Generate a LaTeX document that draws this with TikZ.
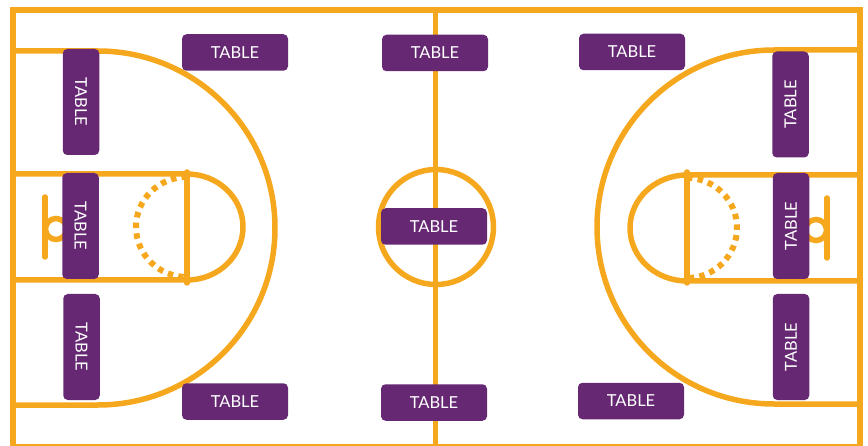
\documentclass[tikz,border=0pt]{standalone}
\usepackage{fontspec}
\setmainfont{Lato}
\usetikzlibrary{positioning}
\definecolor{courtorange}{HTML}{F5A81E}
\definecolor{tablepurple}{HTML}{662873}
\tikzset{
  court/.style={draw=courtorange, line width=5.5pt},
  border/.style={draw=courtorange, line width=6pt},
  dots/.style={draw=courtorange, line width=6pt, dash pattern=on 5.5pt off 5.2pt},
  rim/.style={draw=courtorange, line width=5.5pt, line cap=round},
  tbl/.style={fill=tablepurple, rectangle, rounded corners=4.5pt, minimum width=106pt, minimum height=36.5pt, inner sep=0pt, text=white, font=\fontsize{16.5}{16.5}\selectfont},
  ltbl/.style={tbl, rotate=-90},
  rtbl/.style={tbl, rotate=90},
}
\begin{document}
\begin{tikzpicture}[x=1pt,y=1pt]
\useasboundingbox (0,0) rectangle (868,445);
\draw[border] (13,-2.2) rectangle (860,435);
\draw[court] (435.5,-2) -- (435.5,435);
\draw[court] (436,218) circle (57.5);
% left half
\draw[court] (13,394) -- (98,394) arc (90:-90:177) -- (13,40);
\draw[court] (13,271) -- (187,271) arc (90:-90:56 and 53) -- (13,165);
\draw[rim] (187,273) -- (187,162);
\draw[dots] (187,268) arc (90:270:51 and 50);
\draw[rim] (45,248) -- (45,188);
\draw[court] (56,216) circle (10.5);
% right half
\draw[court] (860,395) -- (774,395) arc (90:270:177) -- (860,41);
\draw[court] (860,270) -- (687,270) arc (90:270:57 and 53) -- (860,164);
\draw[rim] (687,273) -- (687,162);
\draw[dots] (687,267) arc (90:-90:50 and 50);
\draw[rim] (827,247) -- (827,187);
\draw[court] (816,215) circle (10.5);
% tables
\node[tbl] (topl) at (235,392.5) {TABLE};
\node[tbl] (topc) at (435,392) {TABLE};
\node[tbl] (topr) at (632,393) {TABLE};
\node[tbl] (midc) at (434,218.5) {TABLE};
\node[tbl] (botl) at (235,43.5) {TABLE};
\node[tbl] (botc) at (434,42.5) {TABLE};
\node[tbl] (botr) at (631,44) {TABLE};
\node[ltbl] (leftt) at (81,343) {TABLE};
\node[ltbl] (leftm) at (80.5,219) {TABLE};
\node[ltbl] (leftb) at (81.5,98) {TABLE};
\node[rtbl] (rightt) at (790.5,340.5) {TABLE};
\node[rtbl] (rightm) at (791,219) {TABLE};
\node[rtbl] (rightb) at (791,98) {TABLE};
\end{tikzpicture}
\end{document}
